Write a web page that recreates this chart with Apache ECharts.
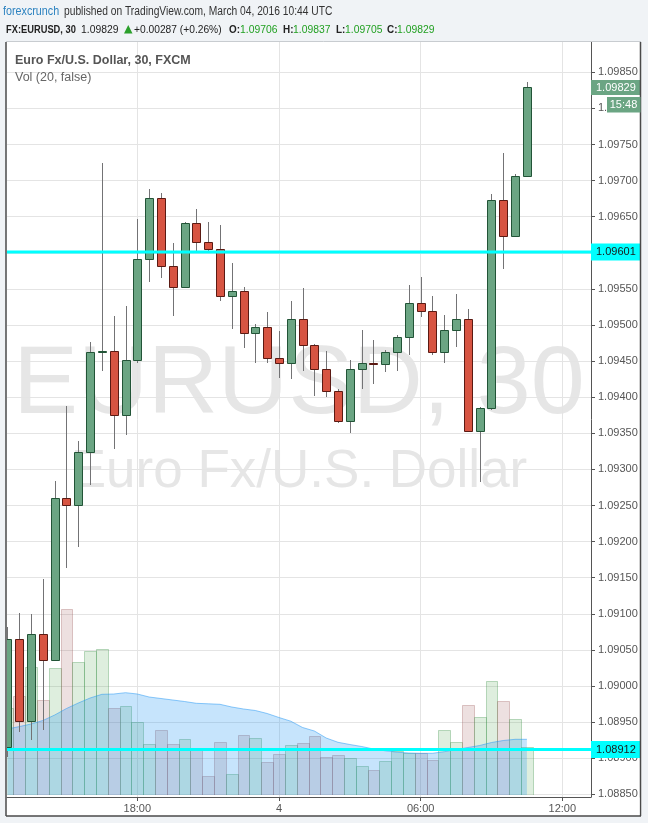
<!DOCTYPE html>
<html><head><meta charset="utf-8">
<script src="https://cdn.jsdelivr.net/npm/echarts@6/dist/echarts.min.js"></script>
<style>html,body{margin:0;padding:0;background:#f0f3f6;}#c{width:648px;height:823px;}</style>
</head><body><div id="c"></div>
<script>
// ---- DATA ----
const times = ['2016-03-03 12:30','2016-03-03 13:00','2016-03-03 13:30','2016-03-03 14:00','2016-03-03 14:30','2016-03-03 15:00','2016-03-03 15:30','2016-03-03 16:00','2016-03-03 16:30','2016-03-03 17:00','2016-03-03 17:30',
 '2016-03-03 18:00','2016-03-03 18:30','2016-03-03 19:00','2016-03-03 19:30','2016-03-03 20:00','2016-03-03 20:30','2016-03-03 21:00','2016-03-03 21:30','2016-03-03 22:00','2016-03-03 22:30','2016-03-03 23:00','2016-03-03 23:30',
 '2016-03-04 00:00','2016-03-04 00:30','2016-03-04 01:00','2016-03-04 01:30','2016-03-04 02:00','2016-03-04 02:30','2016-03-04 03:00','2016-03-04 03:30','2016-03-04 04:00','2016-03-04 04:30','2016-03-04 05:00','2016-03-04 05:30',
 '2016-03-04 06:00','2016-03-04 06:30','2016-03-04 07:00','2016-03-04 07:30','2016-03-04 08:00','2016-03-04 08:30','2016-03-04 09:00','2016-03-04 09:30','2016-03-04 10:00','2016-03-04 10:30'];
const opens  = [1.08916,1.09065,1.08952,1.09072,1.09036,1.09260,1.09251,1.09324,1.09463,1.09464,1.09375,
 1.09451,1.09592,1.09676,1.09582,1.09553,1.09641,1.09615,1.09605,1.09540,1.09547,1.09489,1.09497,
 1.09454,1.09447,1.09508,1.09472,1.09439,1.09408,1.09367,1.09439,1.09448,1.09446,1.09462,1.09483,
 1.09530,1.09519,1.09462,1.09493,1.09508,1.09353,1.09385,1.09673,1.09623,1.09706];
const closes = [1.09065,1.08952,1.09072,1.09036,1.09260,1.09251,1.09324,1.09463,1.09464,1.09375,1.09451,
 1.09592,1.09676,1.09582,1.09553,1.09641,1.09615,1.09605,1.09540,1.09547,1.09489,1.09497,1.09454,
 1.09447,1.09508,1.09472,1.09439,1.09408,1.09367,1.09439,1.09448,1.09446,1.09462,1.09483,1.09530,
 1.09519,1.09462,1.09493,1.09508,1.09353,1.09385,1.09673,1.09623,1.09706,1.09829];
const lows   = [1.08902,1.08937,1.08925,1.08939,1.09035,1.09163,1.09192,1.09279,1.09437,1.09328,1.09347,
 1.09448,1.09559,1.09565,1.09513,1.09552,1.09603,1.09603,1.09533,1.09494,1.09468,1.09447,1.09448,
 1.09427,1.09425,1.09437,1.09402,1.09400,1.09364,1.09351,1.09412,1.09419,1.09435,1.09437,1.09458,
 1.09511,1.09458,1.09448,1.09470,1.09352,1.09283,1.09383,1.09577,1.09622,1.09705];
const highs  = [1.09082,1.09101,1.09100,1.09148,1.09284,1.09388,1.09340,1.09476,1.09725,1.09513,1.09527,
 1.09647,1.09689,1.09683,1.09613,1.09643,1.09661,1.09643,1.09638,1.09586,1.09552,1.09502,1.09518,
 1.09492,1.09533,1.09551,1.09474,1.09464,1.09412,1.09452,1.09493,1.09479,1.09466,1.09486,1.09555,
 1.09566,1.09540,1.09514,1.09543,1.09522,1.09386,1.09681,1.09738,1.09709,1.09837];
const volumes = [8700,9900,12770,9500,12670,18570,13270,14400,14570,8670,8870,
 7270,5070,6470,5070,5570,4500,1900,5270,2100,5970,5670,3270,
 4100,4970,5170,5900,3800,4000,3670,2900,2470,3400,4400,4170,
 4170,3500,6470,5270,8970,7800,11400,9370,7600,4800];
const volumeMA = [6600,6840,7100,7450,8000,8650,9200,9700,10070,10100,10230,
 10100,9800,9650,9500,9350,9170,9120,9070,8800,8600,8450,8150,
 7750,7380,6750,6400,5700,5270,5050,4850,4600,4420,4280,4200,
 4170,4170,4330,4550,4750,4950,5250,5450,5570,5570];
const priceTicks = [1.0885,1.0890,1.0895,1.0900,1.0905,1.0910,1.0915,1.0920,1.0925,1.0930,1.0935,1.0940,1.0945,1.0950,1.0955,1.0960,1.0965,1.0970,1.0975,1.0980,1.0985];
const timeTicks = ['2016-03-03 18:00','2016-03-04 00:00','2016-03-04 06:00','2016-03-04 12:00'];
const timeTickLabels = ['18:00','4','06:00','12:00'];
const levelLines = [1.09601, 1.08912];
const lastPrice = 1.09829;
const timeLeft = '15:48';

// ---- helpers ----
function ms(s){const [d,t]=s.split(' ');const [Y,M,D]=d.split('-').map(Number);const [h,m]=t.split(':').map(Number);return Date.UTC(Y,M-1,D,h,m);}
const BAR_MS = 30*60*1000;
const t0 = ms('2016-03-03 18:00');
const xMin = t0 - 11.04*BAR_MS, xMax = t0 + 38.43*BAR_MS;
const tickMs = timeTicks.map(ms);
const FONT = '"Liberation Sans", Arial, sans-serif';

const candleData = times.map((t,i)=>[ms(t),opens[i],closes[i],lows[i],highs[i]]);
const volData = times.map((t,i)=>[ms(t),volumes[i],closes[i]>=opens[i]?1:0]);
const maData = times.map((t,i)=>[ms(t),volumeMA[i]]);

function levelSeries(v, lineStyle, label){
  return {type:'line',xAxisIndex:0,yAxisIndex:0,z:6,silent:true,showSymbol:false,symbol:'none',clip:false,
    data:[[xMin,v],[xMax,v]],lineStyle:lineStyle,
    endLabel:Object.assign({show:true,distance:0,formatter:()=>v.toFixed(5),fontSize:11,fontFamily:FONT,
      align:'left',verticalAlign:'middle'},label)};
}
function htext(txt,x,y,font,fill,sx){
  return {type:'text',silent:true,x:x,y:y,scaleX:sx,style:{text:txt,x:0,y:0,verticalAlign:'middle',font:font,fill:fill}};
}

const chart = echarts.init(document.getElementById('c'), null, {renderer:'canvas'});
const xAxisCommon = {type:'value', min:xMin, max:xMax};
chart.setOption({
  animation:false,
  backgroundColor:'#f0f3f6',
  grid:[{left:7,right:57,top:42,bottom:26},{left:7,right:57,top:595,bottom:28}],
  xAxis:[
    Object.assign({gridIndex:0,
      axisLine:{show:true,onZero:false,lineStyle:{color:'#555',width:1}},
      axisTick:{show:true,length:4,customValues:tickMs,lineStyle:{color:'#555'}},
      axisLabel:{customValues:tickMs,margin:6,color:'#555',fontSize:11,fontFamily:FONT,
        formatter:v=>{const k=tickMs.indexOf(v);return k>=0?timeTickLabels[k]:'';}},
      splitLine:{show:true,lineStyle:{color:'#e4e4e4',width:1}}},xAxisCommon),
    Object.assign({gridIndex:1,show:false,splitLine:{show:false}},xAxisCommon)
  ],
  yAxis:[
    {type:'value',gridIndex:0,position:'right',min:1.088463,max:1.098920,
      axisLine:{show:true,onZero:false,lineStyle:{color:'#555',width:1}},
      axisTick:{show:true,length:4,customValues:priceTicks,lineStyle:{color:'#555'}},
      axisLabel:{customValues:priceTicks,margin:7,color:'#555',fontSize:11,fontFamily:FONT,
        formatter:v=>v.toFixed(5)},
      splitLine:{show:true,lineStyle:{color:'#e4e4e4',width:1}}},
    {type:'value',gridIndex:1,min:0,max:20000,show:false,splitLine:{show:false}}
  ],
  series:[
    {type:'custom',name:'Volume',xAxisIndex:1,yAxisIndex:1,z:1,clip:true,silent:true,
      data:volData,encode:{x:0,y:1},
      renderItem:function(params,api){
        const t=api.value(0),v=api.value(1),up=api.value(2);
        const p0=api.coord([t-BAR_MS/2,v]),p1=api.coord([t+BAR_MS/2,0]);
        const x0=Math.round(p0[0])+0.5,x1=Math.round(p1[0])+0.5;
        const y0=Math.round(p0[1])+0.5,y1=Math.round(p1[1])+0.5;
        return {type:'rect',shape:{x:x0,y:y0,width:x1-x0,height:y1-y0},
          style:{fill:up?'rgba(90,170,90,0.2)':'rgba(150,70,70,0.17)',
                 stroke:up?'rgba(70,150,80,0.35)':'rgba(150,80,80,0.3)',lineWidth:1}};
      }},
    {type:'line',name:'Vol MA',xAxisIndex:1,yAxisIndex:1,z:3,data:maData,showSymbol:false,symbol:'none',silent:true,
      lineStyle:{color:'rgba(33,150,243,0.5)',width:1},
      areaStyle:{color:'rgba(33,150,243,0.37)',origin:'start'}},
    {type:'custom',name:'EURUSD',xAxisIndex:0,yAxisIndex:0,z:4,clip:true,silent:true,
      data:candleData,encode:{x:0,y:[1,2,3,4]},
      renderItem:function(params,api){
        const t=api.value(0),o=api.value(1),c=api.value(2),l=api.value(3),h=api.value(4);
        const po=api.coord([t,o]),pc=api.coord([t,c]),pl=api.coord([t,l]),ph=api.coord([t,h]);
        const cx=Math.round(po[0]);
        const up=c>=o;
        const top=Math.round(Math.min(po[1],pc[1]))+0.5;
        const bot=Math.round(Math.max(po[1],pc[1]))+0.5;
        return {type:'group',children:[
          {type:'line',shape:{x1:cx+0.5,y1:Math.round(ph[1]),x2:cx+0.5,y2:Math.round(pl[1])},
            style:{stroke:'#737375',lineWidth:1}},
          {type:'rect',shape:{x:cx-3.5,y:top,width:8,height:Math.max(bot-top,1)},
            style:{fill:up?'#6ba583':'#d75442',stroke:up?'#225437':'#5b1a13',lineWidth:1}}
        ]};
      }},
    levelSeries(levelLines[0],{color:'#00ffff',width:3},{backgroundColor:'#00ffff',color:'#1a1a1a',padding:[3,5,3,5]}),
    levelSeries(levelLines[1],{color:'#00ffff',width:3},{backgroundColor:'#00ffff',color:'#1a1a1a',padding:[3,5,3,5]}),
    levelSeries(lastPrice,{opacity:0,width:0},{backgroundColor:'#6ba583',color:'#ffffff',padding:[2,5,2,5]})
  ],
  graphic:[
    {type:'rect',z:-2,silent:true,shape:{x:6,y:42,width:635,height:774},style:{fill:'#ffffff'}},
    {type:'text',z:-1,silent:true,style:{text:'EURUSD, 30',x:299,y:386,align:'center',verticalAlign:'middle',font:'97px '+FONT,fill:'#e6e6e6'}},
    {type:'text',z:-1,silent:true,style:{text:'Euro Fx/U.S. Dollar',x:299,y:472,align:'center',verticalAlign:'middle',font:'53px '+FONT,fill:'#e6e6e6'}},
    {type:'line',z:50,silent:true,shape:{x1:6,y1:41.5,x2:641,y2:41.5},style:{stroke:'#c8ccd0',lineWidth:1}},
    {type:'line',z:50,silent:true,shape:{x1:6,y1:42,x2:6,y2:816},style:{stroke:'#4a4a4a',lineWidth:1.5}},
    {type:'line',z:50,silent:true,shape:{x1:640.5,y1:42,x2:640.5,y2:816},style:{stroke:'#4a4a4a',lineWidth:1.5}},
    {type:'line',z:50,silent:true,shape:{x1:6,y1:816,x2:641,y2:816},style:{stroke:'#4a4a4a',lineWidth:1.5}},
    {type:'rect',z:50,silent:true,shape:{x:592,y:797.5,width:47.5,height:17.5},style:{fill:'#ffffff'}},
    {type:'text',z:20,silent:true,style:{text:'Euro Fx/U.S. Dollar, 30, FXCM',x:15,y:60.5,verticalAlign:'middle',font:'bold 12.5px '+FONT,fill:'#555'}},
    {type:'text',z:20,silent:true,style:{text:'Vol (20, false)',x:15,y:77.5,verticalAlign:'middle',font:'12.5px '+FONT,fill:'#666'}},
    {type:'rect',z:60,silent:true,shape:{x:607,y:97,width:33.5,height:15.5},style:{fill:'#6ba583'}},
    {type:'text',z:61,silent:true,style:{text:timeLeft,x:623.5,y:105,align:'center',verticalAlign:'middle',font:'11px '+FONT,fill:'#ffffff'}},
    // header
    htext('forexcrunch',3,12,'12.5px '+FONT,'#2d83c0',0.86),
    htext('published on TradingView.com, March 04, 2016 10:44 UTC',64,12,'12.5px '+FONT,'#333',0.82),
    htext('FX:EURUSD, 30',6,29.5,'bold 11.5px '+FONT,'#222',0.81),
    htext('1.09829',81,29.5,'11.5px '+FONT,'#222',0.9),
    {type:'polygon',silent:true,shape:{points:[[124,33.5],[132.5,33.5],[128.25,25]]},style:{fill:'#2ba02b'}},
    htext('+0.00287 (+0.26%)',134,29.5,'11.5px '+FONT,'#222',0.89),
    htext('O:',229,29.5,'bold 11.5px '+FONT,'#222',0.86),
    htext('1.09706',240,29.5,'11.5px '+FONT,'#22a022',0.9),
    htext('H:',283,29.5,'bold 11.5px '+FONT,'#222',0.86),
    htext('1.09837',293,29.5,'11.5px '+FONT,'#22a022',0.9),
    htext('L:',336,29.5,'bold 11.5px '+FONT,'#222',0.86),
    htext('1.09705',345,29.5,'11.5px '+FONT,'#22a022',0.9),
    htext('C:',387,29.5,'bold 11.5px '+FONT,'#222',0.86),
    htext('1.09829',397,29.5,'11.5px '+FONT,'#22a022',0.9)
  ]
});
</script></body></html>
